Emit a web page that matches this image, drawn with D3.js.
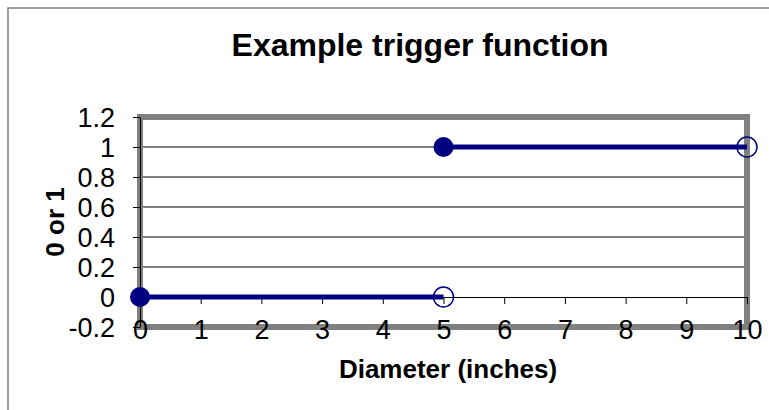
<!DOCTYPE html>
<html lang="en">
<head>
<meta charset="UTF-8">
<script src="https://d3js.org/d3.v7.min.js"></script>
<title>Example trigger function</title>
<style>
  body { margin: 0; background: #fff; }
  svg { display: block; font-family: 'Liberation Sans', Arial, sans-serif; }
  .tick text { font-size: 27px; fill: #000; }
</style>
</head>
<body>
<svg width="769" height="410"></svg>
<script>
// Data: two step segments of the trigger function
const lowSegment = [{ x: 0, y: 0 }, { x: 5, y: 0 }];
const highSegment = [{ x: 5, y: 1 }, { x: 10, y: 1 }];
const xTicks = [0, 1, 2, 3, 4, 5, 6, 7, 8, 9, 10];
const yTicks = [-0.2, 0, 0.2, 0.4, 0.6, 0.8, 1, 1.2];
const yTickLabels = ["-0.2", "0", "0.2", "0.4", "0.6", "0.8", "1", "1.2"];

const plot = { left: 140, right: 747, top: 117, bottom: 327 };

const svg = d3.select("svg");

// Outer chart border
svg.append("rect")
    .attr("x", 8).attr("y", 8)
    .attr("width", 800).attr("height", 450)
    .attr("fill", "none")
    .attr("stroke", "#808080")
    .attr("stroke-width", 1.5);

const x = d3.scaleLinear().domain([0, 10]).range([plot.left, plot.right]);
const y = d3.scaleLinear().domain([-0.2, 1.2]).range([plot.bottom, plot.top]);

// Gridlines
svg.append("g")
    .selectAll("line")
    .data([0.2, 0.4, 0.6, 0.8, 1])
    .join("line")
    .attr("x1", plot.left).attr("x2", plot.right)
    .attr("y1", d => y(d)).attr("y2", d => y(d))
    .attr("stroke", "#000")
    .attr("stroke-width", 1);

// Plot area border (thick gray)
svg.append("rect")
    .attr("x", plot.left).attr("y", plot.top)
    .attr("width", plot.right - plot.left)
    .attr("height", plot.bottom - plot.top)
    .attr("fill", "none")
    .attr("stroke", "#808080")
    .attr("stroke-width", 6);

// x axis sits at y = 0, labels down at the bottom
const xAxis = svg.append("g")
    .attr("transform", `translate(0,${y(0)})`)
    .call(d3.axisBottom(x).tickValues(xTicks).tickSize(7).tickSizeOuter(0).tickFormat(d3.format("d")));
xAxis.select(".domain").attr("stroke", "#000");
xAxis.selectAll(".tick text")
    .attr("y", 42)
    .attr("dy", 0);

// y axis
const yAxis = svg.append("g")
    .attr("transform", `translate(${plot.left},0)`)
    .call(d3.axisLeft(y).tickValues(yTicks).tickSize(7).tickSizeOuter(0)
        .tickFormat((d, i) => yTickLabels[i]));
yAxis.select(".domain").attr("stroke", "#000");
yAxis.selectAll(".tick text").attr("x", -25).attr("dy", 9.5);

// Step segments
const line = d3.line().x(d => x(d.x)).y(d => y(d.y));
[lowSegment, highSegment].forEach(seg => {
    svg.append("path")
        .datum(seg)
        .attr("d", line)
        .attr("fill", "none")
        .attr("stroke", "#000080")
        .attr("stroke-width", 5);
    // closed start point
    svg.append("circle")
        .attr("cx", x(seg[0].x)).attr("cy", y(seg[0].y))
        .attr("r", 10)
        .attr("fill", "#000080");
    // open end point
    svg.append("circle")
        .attr("cx", x(seg[1].x)).attr("cy", y(seg[1].y))
        .attr("r", 10)
        .attr("fill", "none")
        .attr("stroke", "#000080")
        .attr("stroke-width", 1.5);
});

// Title and axis labels
svg.append("text")
    .attr("x", 420).attr("y", 56)
    .attr("text-anchor", "middle")
    .attr("font-size", 32).attr("font-weight", "bold")
    .text("Example trigger function");

svg.append("text")
    .attr("x", 448).attr("y", 378)
    .attr("text-anchor", "middle")
    .attr("font-size", 26).attr("font-weight", "bold")
    .text("Diameter (inches)");

svg.append("text")
    .attr("transform", `translate(64,${(plot.top + plot.bottom) / 2}) rotate(-90)`)
    .attr("text-anchor", "middle")
    .attr("font-size", 26).attr("font-weight", "bold")
    .text("0 or 1");
</script>
</body>
</html>
